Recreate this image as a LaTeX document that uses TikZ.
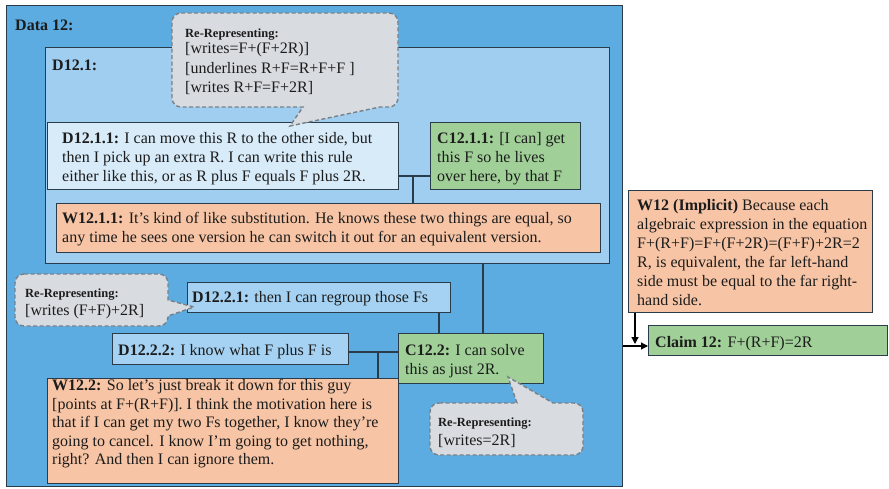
\documentclass[tikz,border=0pt]{standalone}
\usepackage{fontspec}
\setmainfont{Liberation Serif}
\usetikzlibrary{arrows.meta}
\definecolor{outerblue}{RGB}{92,172,226}
\definecolor{midblue}{RGB}{160,206,240}
\definecolor{paleblue}{RGB}{216,235,249}
\definecolor{dtwoblue}{RGB}{165,210,242}
\definecolor{cgreen}{RGB}{160,208,152}
\definecolor{worange}{RGB}{247,197,165}
\definecolor{cgray}{RGB}{216,220,224}
\definecolor{cdash}{RGB}{120,128,136}
\definecolor{bordercol}{RGB}{42,60,74}
\definecolor{textcol}{RGB}{28,28,28}
\begin{document}
\begin{tikzpicture}[x=1pt,y=-1pt,
  box/.style={draw=bordercol,line width=1.2pt,inner sep=0pt,anchor=north west,rectangle},
  conn/.style={draw=bordercol,line width=1.3pt},
  callout/.style={draw=cdash,fill=cgray,line width=1.4pt,dash pattern=on 4pt off 2.5pt},
  txt/.style={anchor=north west,inner sep=0pt,align=left,text=textcol,font=\fontsize{16}{18.7}\selectfont},
  head/.style={anchor=north west,inner sep=0pt,align=left,text=textcol,font=\fontsize{12.5}{14}\selectfont\bfseries},
  arr/.style={-{Triangle[length=7pt,width=7pt]},draw=black,line width=1.2pt}]
\useasboundingbox (0,0) rectangle (889,489);

% boxes
\node[box,fill=outerblue,minimum width=616pt,minimum height=481pt] (data) at (6,5) {};
\node[box,fill=midblue,minimum width=564pt,minimum height=216pt] (d121) at (45,47) {};
\node[box,fill=paleblue,minimum width=351pt,minimum height=67pt] (d1211) at (47,122) {};
\node[box,fill=cgreen,minimum width=150pt,minimum height=67pt] (c1211) at (430,122) {};
\node[box,fill=worange,minimum width=544pt,minimum height=49pt] (w1211) at (56,203) {};
\node[box,fill=dtwoblue,minimum width=263pt,minimum height=30pt] (d1221) at (187,282) {};
\node[box,fill=dtwoblue,minimum width=236pt,minimum height=31pt] (d1222) at (112,333) {};
\node[box,fill=cgreen,minimum width=145pt,minimum height=50pt] (c122) at (398,333) {};
\node[box,fill=worange,minimum width=351pt,minimum height=105pt] (w122) at (47,378) {};
\node[box,fill=worange,minimum width=244pt,minimum height=122pt] (w12) at (628,190) {};
\node[box,fill=cgreen,minimum width=239pt,minimum height=30pt] (claim) at (648,325) {};

% junction coordinates
\coordinate (j1) at (413,176);
\coordinate (j2) at (483,300);
\coordinate (j3) at (439,320);
\coordinate (j4) at (378,352);
\coordinate (k1) at (635,344);
\coordinate (k2) at (0,346);

% connectors
\draw[conn] (d1211.east |- j1) -- (c1211.west |- j1);
\draw[conn] (j1) -- (w1211.north -| j1);
\draw[conn] (d121.south -| j2) -- (c122.north -| j2);
\draw[conn] (d1221.south -| j3) -- (c122.north -| j3);
\draw[conn] (d1222.east |- j4) -- (c122.west |- j4);
\draw[conn] (j4) -- (w122.north -| j4);
\draw[arr] (w12.south -| k1) -- (k1);
\draw[arr] (data.east |- k2) -- (claim.west |- k2);

% callouts
\draw[callout] (181,13) -- (389,13) arc[start angle=-90,end angle=0,radius=9]
  -- (398,98) arc[start angle=0,end angle=90,radius=9]
  -- (380,107) -- (290,126) -- (303,107)
  -- (181,107) arc[start angle=90,end angle=180,radius=9]
  -- (172,22) arc[start angle=180,end angle=270,radius=9] -- cycle;
\draw[callout] (24,274) -- (159,274) arc[start angle=-90,end angle=0,radius=9]
  -- (168,300) -- (194,307) -- (168,316)
  -- (168,317) arc[start angle=0,end angle=90,radius=9]
  -- (24,326) arc[start angle=90,end angle=180,radius=9]
  -- (15,283) arc[start angle=180,end angle=270,radius=9] -- cycle;
\draw[callout] (439,403) -- (517,403) -- (508,377) -- (553,403)
  -- (574,403) arc[start angle=-90,end angle=0,radius=9]
  -- (583,446) arc[start angle=0,end angle=90,radius=9]
  -- (439,455) arc[start angle=90,end angle=180,radius=9]
  -- (430,412) arc[start angle=180,end angle=270,radius=9] -- cycle;

% texts
\node[txt] (tdata) at (15,20) {\textbf{Data 12:}};
\node[txt] (td121) at (52,59.5) {\textbf{D12.1:}};
\node[head] (th1) at (185,28.5) {Re-Representing:};
\node[txt,font=\fontsize{16}{19.5}\selectfont] (tc1) at (185,42.5) {[writes=F+(F+2R)]\\{}[underlines R+F=R+F+F ]\\{}[writes R+F=F+2R]};
\node[txt] (td1211) at (62,132.5) {\textbf{D12.1.1:} I can move this R to the other side, but\\then I pick up an extra R. I can write this rule\\either like this, or as R plus F equals F plus 2R.};
\node[txt] (tc1211) at (437,132.5) {\textbf{C12.1.1:} [I can] get\\this F so he lives\\over here, by that F};
\node[txt] (tw1211) at (62,212.5) {\textbf{W12.1.1:} It's kind of like substitution. He knows these two things are equal, so\\any time he sees one version he can switch it out for an equivalent version.};
\node[head] (th2) at (25,288.5) {Re-Representing:};
\node[txt] (tc2) at (25,304.5) {[writes (F+F)+2R]};
\node[txt] (td1221) at (192,291.5) {\textbf{D12.2.1:} then I can regroup those Fs};
\node[txt] (td1222) at (118,344.5) {\textbf{D12.2.2:} I know what F plus F is};
\node[txt] (tc122) at (405,344.5) {\textbf{C12.2:} I can solve\\this as just 2R.};
\node[txt,font=\fontsize{16}{18.5}\selectfont] (tw122) at (52,379.5) {\textbf{W12.2:} So let's just break it down for this guy\\{}[points at F+(R+F)]. I think the motivation here is\\that if I can get my two Fs together, I know they're\\going to cancel. I know I'm going to get nothing,\\right? And then I can ignore them.};
\node[head] (th3) at (438,417.5) {Re-Representing:};
\node[txt] (tc3) at (438,434.5) {[writes=2R]};
\node[txt,font=\fontsize{16}{19}\selectfont] (tw12) at (637,199.5) {\textbf{W12 (Implicit)} Because each\\algebraic expression in the equation\\F+(R+F)=F+(F+2R)=(F+F)+2R=2\\R, is equivalent, the far left-hand\\side must be equal to the far right-\\hand side.};
\node[txt] (tclaim) at (655,336.5) {\textbf{Claim 12:} F+(R+F)=2R};
\end{tikzpicture}
\end{document}
